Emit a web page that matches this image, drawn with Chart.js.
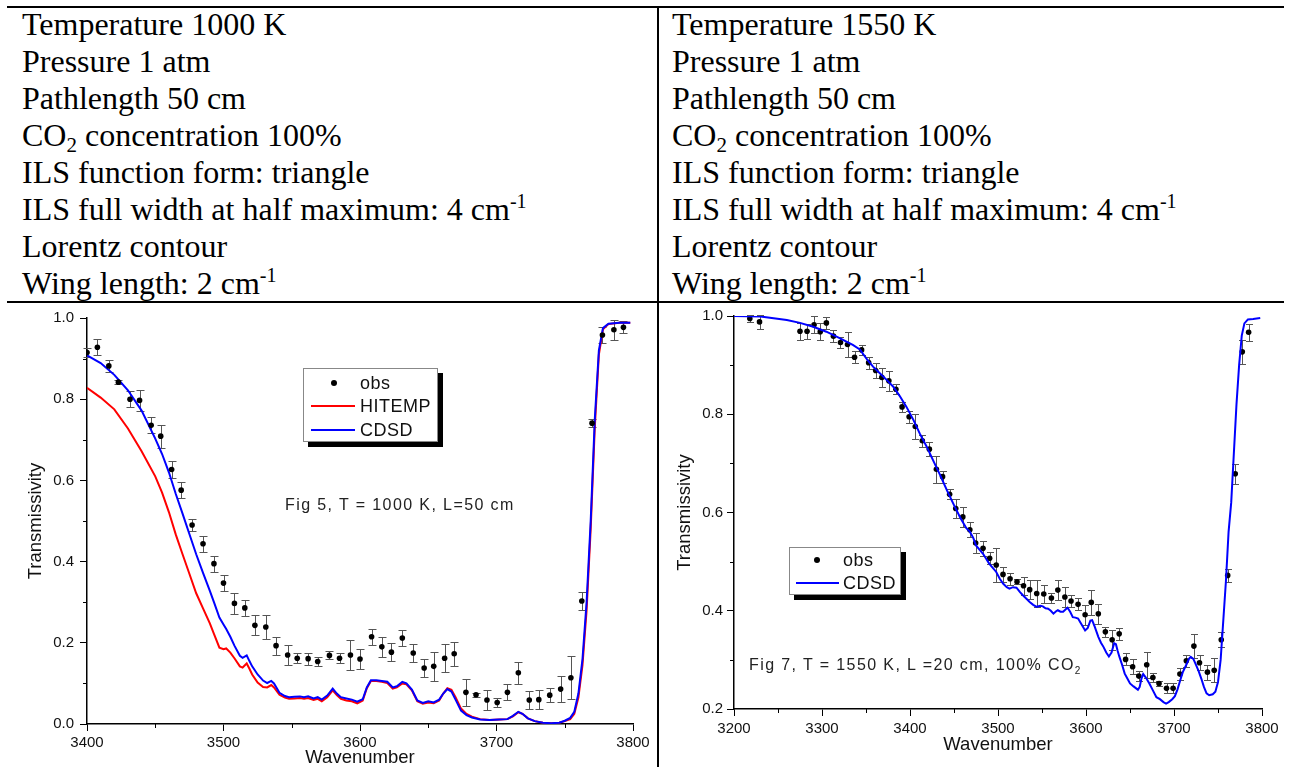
<!DOCTYPE html>
<html>
<head>
<meta charset="utf-8">
<script src="https://cdn.jsdelivr.net/npm/chart.js@4.4.1/dist/chart.umd.min.js"></script>
<style>
  body { margin: 0; background: #fff; }
  #page { position: relative; width: 1291px; height: 767px; overflow: hidden; background: #fff; }
  .rule { position: absolute; background: #000; z-index: 5; }
  .cell { position: absolute; font-family: "Liberation Serif", "Times New Roman", serif; font-size: 32px; line-height: 37px; color: #000; white-space: nowrap; }
  .cell div { height: 37px; }
  .cell sub { font-size: 21px; line-height: 0; vertical-align: -6px; }
  .cell sup { font-size: 20px; line-height: 0; vertical-align: 12px; }
  canvas { position: absolute; }
  .legend { position: absolute; background: #fff; border: 1px solid #888; box-shadow: 5px 5px 0 #000; z-index: 3;
            font-family: "Liberation Sans", Arial, sans-serif; font-size: 18px; letter-spacing: 0.5px; color: #111; }
  .legend .txt { position: absolute; line-height: 20px; }
  .legend .dot { position: absolute; width: 6px; height: 6px; border-radius: 50%; background: #000; }
  .legend .ln { position: absolute; height: 2px; }
  .note { position: absolute; font-family: "Liberation Sans", Arial, sans-serif; font-size: 16px; letter-spacing: 1.4px;
          line-height: 18px; color: #222; white-space: nowrap; z-index: 3; }
  .note sub { font-size: 10px; vertical-align: -4px; line-height: 0; letter-spacing: 0; }
</style>
</head>
<body>
<div id="page">
  <div class="rule" style="left:7px; top:6px; width:1277px; height:2px;"></div>
  <div class="rule" style="left:7px; top:301px; width:1277px; height:2px;"></div>
  <div class="rule" style="left:657px; top:7px; width:2px; height:760px;"></div>

  <div class="cell" style="left:22px; top:6px;">
    <div>Temperature 1000 K</div>
    <div>Pressure 1 atm</div>
    <div>Pathlength 50 cm</div>
    <div>CO<sub>2</sub> concentration 100%</div>
    <div>ILS function form: triangle</div>
    <div>ILS full width at half maximum: 4 cm<sup>-1</sup></div>
    <div>Lorentz contour</div>
    <div>Wing length: 2 cm<sup>-1</sup></div>
  </div>
  <div class="cell" style="left:672px; top:6px;">
    <div>Temperature 1550 K</div>
    <div>Pressure 1 atm</div>
    <div>Pathlength 50 cm</div>
    <div>CO<sub>2</sub> concentration 100%</div>
    <div>ILS function form: triangle</div>
    <div>ILS full width at half maximum: 4 cm<sup>-1</sup></div>
    <div>Lorentz contour</div>
    <div>Wing length: 2 cm<sup>-1</sup></div>
  </div>

  <canvas id="fig5" width="656" height="464" style="left:0; top:303px;"></canvas>
  <canvas id="fig7" width="631" height="464" style="left:660px; top:303px;"></canvas>

  <div class="legend" style="left:303px; top:368px; width:133px; height:72px;">
    <div class="dot" style="left:27px; top:11px;"></div>
    <div class="txt" style="left:56px; top:4px;">obs</div>
    <div class="ln" style="left:7px; top:36px; width:44px; background:#ff0000;"></div>
    <div class="txt" style="left:56px; top:27px;">HITEMP</div>
    <div class="ln" style="left:7px; top:60px; width:44px; background:#0000ff;"></div>
    <div class="txt" style="left:56px; top:51px;">CDSD</div>
  </div>
  <div class="note" style="left:285px; top:496px;">Fig 5, T = 1000 K, L=50 cm</div>

  <div class="legend" style="left:789px; top:547px; width:110px; height:46px;">
    <div class="dot" style="left:24px; top:9px;"></div>
    <div class="txt" style="left:53px; top:2px;">obs</div>
    <div class="ln" style="left:6px; top:34px; width:43px; background:#0000ff;"></div>
    <div class="txt" style="left:53px; top:25px;">CDSD</div>
  </div>
  <div class="note" style="left:749px; top:656px;">Fig 7, T = 1550 K, L =20 cm, 100% CO<sub>2</sub></div>
</div>

<script>
// ---- Fig 5 (T = 1000 K, L = 50 cm) ----
const obs5X = [3400, 3407.6, 3416, 3423, 3431.5, 3438.5, 3447, 3454, 3462, 3469, 3477, 3485, 3493, 3500,
    3508, 3515.6, 3523, 3531, 3538.5, 3547, 3554, 3562, 3569, 3577.6, 3585, 3593, 3600, 3608.5, 3616,
    3623, 3631, 3639, 3647, 3654, 3662, 3669, 3677.6, 3685, 3693, 3700.5, 3708, 3716, 3724, 3731, 3739,
    3747, 3754.5, 3762.5, 3770, 3777.6, 3786, 3793];
const obs5Y = [0.915, 0.928, 0.882, 0.842, 0.800, 0.797, 0.736, 0.709, 0.627, 0.576, 0.490, 0.444, 0.395, 0.347,
    0.297, 0.286, 0.243, 0.239, 0.193, 0.170, 0.162, 0.161, 0.154, 0.169, 0.162, 0.170, 0.160, 0.215, 0.190,
    0.177, 0.212, 0.175, 0.138, 0.142, 0.162, 0.173, 0.078, 0.072, 0.059, 0.053, 0.078, 0.126, 0.059, 0.060, 0.071,
    0.086, 0.114, 0.303, 0.741, 0.958, 0.971, 0.977];
const obs5Err = [0.012, 0.020, 0.015, 0.005, 0.020, 0.025, 0.020, 0.028, 0.020, 0.020, 0.015, 0.020, 0.020, 0.020,
    0.025, 0.020, 0.025, 0.030, 0.022, 0.025, 0.012, 0.015, 0.012, 0.010, 0.012, 0.038, 0.025, 0.020, 0.025,
    0.023, 0.020, 0.022, 0.022, 0.035, 0.035, 0.030, 0.033, 0.005, 0.025, 0.010, 0.020, 0.027, 0.022, 0.023, 0.017,
    0.033, 0.053, 0.022, 0.010, 0.020, 0.025, 0.015];

const model5X = [3400, 3410, 3420, 3430, 3440, 3450, 3455, 3460, 3465, 3470, 3475, 3480, 3485, 3490, 3493, 3497,
    3500, 3502, 3505, 3508, 3512, 3514, 3517, 3519, 3521, 3525, 3529, 3532, 3535, 3537, 3541, 3545, 3548,
    3552, 3556, 3559, 3562, 3566, 3569, 3572, 3576, 3580, 3583, 3586, 3590, 3594, 3598, 3602, 3605, 3608,
    3612, 3616, 3620, 3624, 3627, 3631, 3634, 3638, 3642, 3646, 3650, 3654, 3658, 3661, 3664, 3667, 3670,
    3674, 3678, 3682, 3688, 3695, 3702, 3708, 3712, 3716, 3719, 3723, 3728, 3734, 3740, 3746, 3750, 3754,
    3757, 3760, 3763, 3766, 3769, 3772, 3775, 3778, 3782, 3790, 3798];
const cdsd5Y = [0.908, 0.889, 0.860, 0.822, 0.772, 0.703, 0.665, 0.620, 0.567, 0.518, 0.468, 0.418, 0.372, 0.328, 0.300, 0.262,
    0.245, 0.234, 0.215, 0.193, 0.168, 0.163, 0.169, 0.155, 0.142, 0.122, 0.107, 0.101, 0.106, 0.100, 0.077, 0.069, 0.066,
    0.067, 0.068, 0.066, 0.068, 0.063, 0.066, 0.060, 0.070, 0.087, 0.075, 0.066, 0.063, 0.060, 0.055, 0.061, 0.090, 0.108,
    0.108, 0.106, 0.104, 0.090, 0.093, 0.104, 0.100, 0.085, 0.058, 0.052, 0.056, 0.053, 0.060, 0.075, 0.086, 0.080, 0.060,
    0.033, 0.022, 0.016, 0.011, 0.010, 0.011, 0.012, 0.020, 0.030, 0.025, 0.014, 0.007, 0.003, 0.002, 0.003, 0.008, 0.015,
    0.030, 0.075, 0.160, 0.300, 0.500, 0.750, 0.920, 0.975, 0.986, 0.988, 0.988];
const hitempY = [0.828, 0.804, 0.775, 0.728, 0.672, 0.610, 0.570, 0.522, 0.467, 0.418, 0.370, 0.322, 0.285, 0.248, 0.222, 0.188,
    0.184, 0.186, 0.176, 0.162, 0.142, 0.139, 0.149, 0.136, 0.122, 0.102, 0.091, 0.090, 0.096, 0.090, 0.072, 0.065, 0.062,
    0.063, 0.064, 0.062, 0.064, 0.059, 0.062, 0.056, 0.066, 0.083, 0.071, 0.062, 0.058, 0.056, 0.051, 0.058, 0.088, 0.106,
    0.106, 0.104, 0.101, 0.087, 0.090, 0.100, 0.098, 0.083, 0.056, 0.050, 0.053, 0.051, 0.058, 0.075, 0.088, 0.084, 0.066,
    0.038, 0.025, 0.018, 0.012, 0.010, 0.011, 0.012, 0.019, 0.029, 0.025, 0.014, 0.007, 0.003, 0.002, 0.003, 0.007, 0.012,
    0.025, 0.065, 0.145, 0.280, 0.480, 0.730, 0.910, 0.972, 0.985, 0.988, 0.988];

// ---- Fig 7 (T = 1550 K, L = 20 cm) ----
const obs7X = [3218, 3229, 3275, 3283, 3291, 3298, 3305, 3313, 3321, 3329, 3337, 3345, 3353, 3361, 3368, 3376,
    3384, 3391, 3399, 3406, 3414, 3422, 3430, 3437, 3445, 3452, 3460, 3468, 3474.6, 3483, 3490.5, 3498,
    3505.7, 3513.7, 3521.6, 3529, 3536, 3544, 3552, 3560.7, 3568, 3576, 3583, 3591, 3599, 3606, 3614, 3622,
    3629.7, 3637.7, 3645, 3653, 3660, 3669, 3676, 3683, 3691.5, 3699, 3706.7, 3714, 3722.6, 3729, 3738,
    3745.7, 3753.7, 3761, 3769.6, 3777.6, 3784.8];
const obs7Y = [0.995, 0.988, 0.969, 0.969, 0.982, 0.968, 0.986, 0.959, 0.946, 0.942, 0.916, 0.931, 0.905, 0.889, 0.875, 0.868,
    0.851, 0.815, 0.795, 0.775, 0.746, 0.729, 0.688, 0.673, 0.637, 0.608, 0.591, 0.565, 0.538, 0.527, 0.507, 0.493,
    0.474, 0.465, 0.459, 0.451, 0.443, 0.435, 0.434, 0.426, 0.442, 0.428, 0.420, 0.413, 0.392, 0.417, 0.394, 0.357,
    0.341, 0.353, 0.301, 0.286, 0.267, 0.290, 0.264, 0.252, 0.242, 0.242, 0.271, 0.298, 0.328, 0.294, 0.275,
    0.279, 0.341, 0.472, 0.679, 0.927, 0.967];
const obs7Err = [0.008, 0.014, 0.017, 0.015, 0.017, 0.017, 0.012, 0.012, 0.012, 0.025, 0.012, 0.010, 0.012, 0.015, 0.020, 0.020,
    0.010, 0.010, 0.012, 0.025, 0.012, 0.015, 0.028, 0.012, 0.010, 0.020, 0.020, 0.015, 0.020, 0.015, 0.012, 0.035,
    0.015, 0.012, 0.005, 0.018, 0.020, 0.028, 0.018, 0.010, 0.020, 0.020, 0.012, 0.012, 0.020, 0.025, 0.020, 0.010,
    0.020, 0.012, 0.012, 0.015, 0.010, 0.027, 0.010, 0.005, 0.010, 0.010, 0.012, 0.012, 0.025, 0.015, 0.015,
    0.025, 0.015, 0.013, 0.020, 0.025, 0.017];

const cdsd7X = [3200, 3230, 3260, 3275, 3290, 3305, 3320, 3335, 3343, 3351, 3358, 3366, 3374, 3381, 3388, 3396,
    3404, 3411, 3419, 3426, 3434, 3442, 3450, 3457, 3464, 3468, 3472, 3475, 3483, 3490, 3498, 3502, 3506,
    3510, 3513, 3517, 3521, 3525, 3528, 3532, 3536, 3540, 3544, 3548, 3551, 3554, 3557, 3560, 3563, 3566,
    3568, 3571, 3574, 3577, 3579, 3582, 3585, 3588, 3591, 3595, 3599, 3602, 3605, 3607, 3610, 3614, 3617,
    3620, 3623, 3626, 3629, 3632, 3634, 3636, 3638, 3641, 3644, 3647, 3650, 3654, 3657, 3659, 3661, 3663,
    3665, 3668, 3672, 3676, 3680, 3684, 3688, 3691, 3694, 3698, 3701, 3704, 3707, 3710, 3714, 3717, 3719,
    3722, 3725, 3728, 3731, 3734, 3737, 3740, 3744, 3747, 3750, 3753, 3756, 3759, 3762, 3765, 3768, 3771,
    3774, 3777, 3780, 3784, 3790, 3798];
const cdsd7Y = [1.000, 0.999, 0.992, 0.986, 0.978, 0.968, 0.955, 0.941, 0.932, 0.912, 0.897, 0.883, 0.869, 0.856, 0.838, 0.815,
    0.788, 0.761, 0.734, 0.707, 0.677, 0.645, 0.615, 0.590, 0.568, 0.561, 0.548, 0.533, 0.516, 0.496, 0.479, 0.465, 0.455,
    0.448, 0.445, 0.448, 0.447, 0.438, 0.432, 0.425, 0.418, 0.412, 0.408, 0.410, 0.409, 0.405, 0.404, 0.400, 0.394, 0.399,
    0.401, 0.398, 0.398, 0.403, 0.406, 0.398, 0.387, 0.386, 0.384, 0.372, 0.360, 0.365, 0.380, 0.381, 0.367, 0.347, 0.335,
    0.326, 0.315, 0.307, 0.315, 0.334, 0.332, 0.318, 0.306, 0.290, 0.272, 0.262, 0.252, 0.246, 0.242, 0.239, 0.245, 0.262,
    0.271, 0.264, 0.252, 0.238, 0.224, 0.220, 0.214, 0.211, 0.214, 0.220, 0.226, 0.240, 0.258, 0.275, 0.290, 0.302, 0.306,
    0.302, 0.290, 0.277, 0.262, 0.245, 0.232, 0.228, 0.230, 0.235, 0.255, 0.300, 0.380, 0.460, 0.560, 0.620, 0.720, 0.820,
    0.900, 0.960, 0.985, 0.993, 0.994, 0.996];

const xTicks5 = [3400, 3800, 100];
const yTicks5 = [0, 1, 0.2];
const xTicks7 = [3200, 3800, 100];
const yTicks7 = [0.2, 1, 0.2];

const sansFont = "'Liberation Sans', Arial, Helvetica, sans-serif";

function toPoints(xs, ys) {
    return xs.map((x, i) => ({ x: x, y: ys[i] }));
}

// vertical error bars with caps, drawn under the markers
function errorBarPlugin(xs, ys, errs, cap) {
    return {
        id: "errorBars",
        beforeDatasetsDraw(chart) {
            const { ctx, scales: { x, y } } = chart;
            ctx.save();
            ctx.strokeStyle = "#555";
            ctx.lineWidth = 1;
            ctx.beginPath();
            xs.forEach((v, i) => {
                const px = Math.round(x.getPixelForValue(v)) + 0.5;
                const top = Math.round(y.getPixelForValue(ys[i] + errs[i])) + 0.5;
                const bot = Math.round(y.getPixelForValue(ys[i] - errs[i])) + 0.5;
                ctx.moveTo(px, top);
                ctx.lineTo(px, bot);
                ctx.moveTo(px - cap, top);
                ctx.lineTo(px + cap, top);
                ctx.moveTo(px - cap, bot);
                ctx.lineTo(px + cap, bot);
            });
            ctx.stroke();
            ctx.restore();
        },
    };
}

// short minor ticks half way between the labelled ones
function minorTickPlugin(xt, yt) {
    return {
        id: "minorTicks",
        afterDraw(chart) {
            const { ctx, scales: { x, y }, chartArea: a } = chart;
            ctx.save();
            ctx.strokeStyle = "#000";
            ctx.lineWidth = 1;
            ctx.beginPath();
            for (let v = xt[0] + xt[2] / 2; v < xt[1]; v += xt[2]) {
                const px = Math.round(x.getPixelForValue(v)) + 0.5;
                ctx.moveTo(px, a.bottom);
                ctx.lineTo(px, a.bottom + 4);
            }
            for (let v = yt[0] + yt[2] / 2; v < yt[1]; v += yt[2]) {
                const py = Math.round(y.getPixelForValue(v)) + 0.5;
                ctx.moveTo(a.left, py);
                ctx.lineTo(a.left - 4, py);
            }
            ctx.stroke();
            ctx.restore();
        },
    };
}

function axis(t, extra) {
    return Object.assign({
        type: "linear",
        min: t[0],
        max: t[1],
        grid: { display: true, drawOnChartArea: false, drawTicks: true, tickLength: 7, tickColor: "#000", lineWidth: 1 },
        border: { display: true, color: "#000", width: 1.5 },
    }, extra);
}

function buildChart(id, c) {
    return new Chart(document.getElementById(id), {
        type: "scatter",
        data: { datasets: c.datasets },
        options: {
            responsive: false,
            animation: false,
            events: [],
            layout: { padding: c.padding },
            plugins: { legend: { display: false }, tooltip: { enabled: false } },
            scales: {
                x: axis(c.xt, {
                    afterFit: (s) => { s.height = c.xHeight; },
                    ticks: { stepSize: c.xt[2], padding: c.xPad, color: "#111", maxRotation: 0, autoSkip: false,
                        font: { family: sansFont, size: 15 }, callback: (v) => String(v) },
                    title: { display: true, text: "Wavenumber", color: "#111", padding: { top: 0, bottom: c.xTitlePad },
                        font: { family: sansFont, size: 18.5, lineHeight: 1 } },
                }),
                y: axis(c.yt, {
                    afterFit: (s) => { s.width = c.yWidth; },
                    ticks: { stepSize: c.yt[2], padding: c.yPad, color: "#111",
                        font: { family: sansFont, size: 15 }, callback: (v) => v.toFixed(1) },
                    title: { display: true, text: "Transmissivity", color: "#111", padding: { top: c.yTitlePad, bottom: 0 },
                        font: { family: sansFont, size: 18.5, lineHeight: 1 } },
                }),
            },
        },
        plugins: [errorBarPlugin(c.errX, c.errY, c.err, c.cap), minorTickPlugin(c.xt, c.yt)],
    });
}

const obsStyle = { showLine: false, pointRadius: 2.8, pointBackgroundColor: "#000", pointBorderWidth: 0 };
const lineStyle = { showLine: true, pointRadius: 0, borderWidth: 2, tension: 0 };

buildChart("fig5", {
    datasets: [
        Object.assign({ label: "obs", data: toPoints(obs5X, obs5Y) }, obsStyle),
        Object.assign({ label: "CDSD", data: toPoints(model5X, cdsd5Y), borderColor: "#0000ff" }, lineStyle),
        Object.assign({ label: "HITEMP", data: toPoints(model5X, hitempY), borderColor: "#ff0000" }, lineStyle),
    ],
    padding: { left: 0, right: 23, top: 13, bottom: 0 },
    xt: xTicks5, yt: yTicks5,
    xHeight: 43, yWidth: 87, xPad: 3, yPad: 6, xTitlePad: 0, yTitlePad: 27,
    errX: obs5X, errY: obs5Y, err: obs5Err, cap: 4,
});

buildChart("fig7", {
    datasets: [
        Object.assign({ label: "CDSD", data: toPoints(cdsd7X, cdsd7Y), borderColor: "#0000ff" }, lineStyle),
        Object.assign({ label: "obs", data: toPoints(obs7X, obs7Y) }, obsStyle),
    ],
    padding: { left: 0, right: 29, top: 13, bottom: 0 },
    xt: xTicks7, yt: yTicks7,
    xHeight: 58, yWidth: 74, xPad: 4, yPad: 4, xTitlePad: 13, yTitlePad: 16,
    errX: obs7X, errY: obs7Y, err: obs7Err, cap: 3.5,
});
</script>
</body>
</html>
